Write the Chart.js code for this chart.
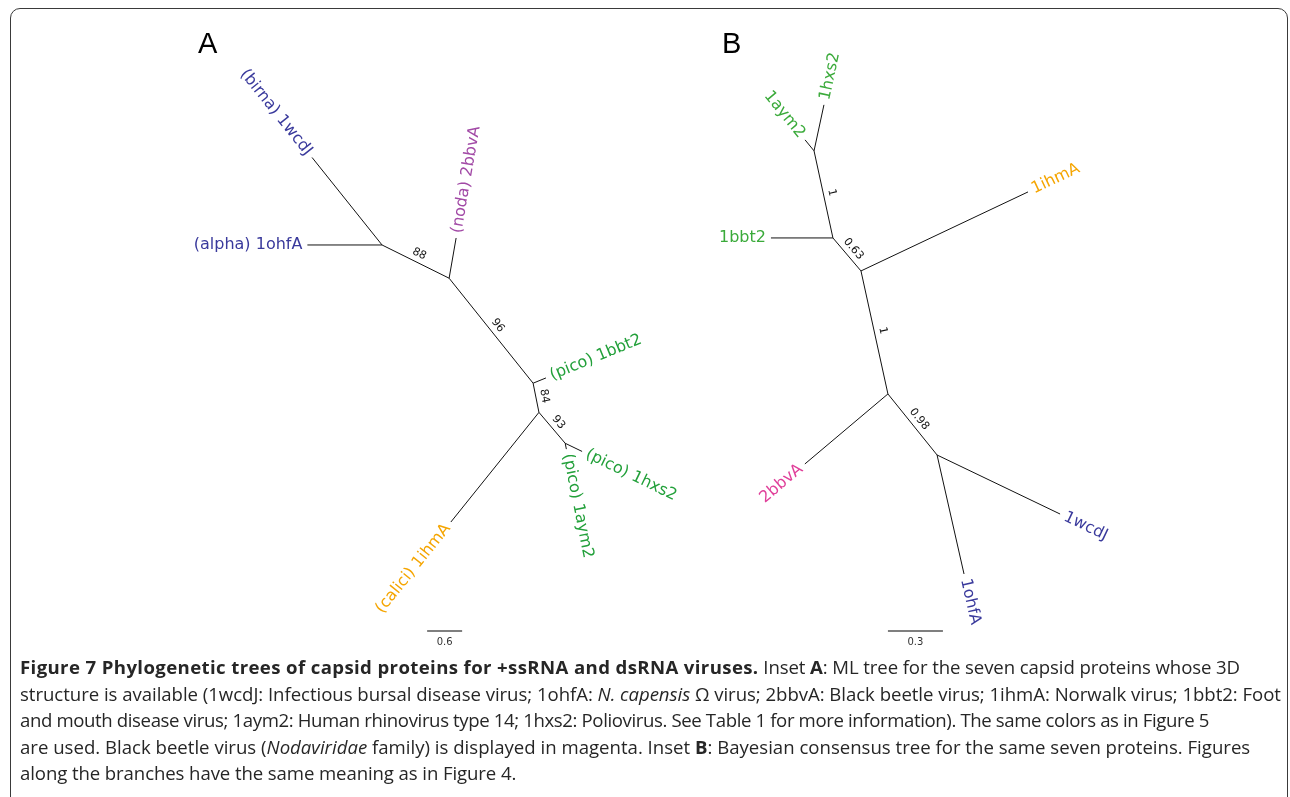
<!DOCTYPE html>
<html>
<head>
<meta charset="utf-8">
<script src="https://cdn.jsdelivr.net/npm/chart.js@4.4.1/dist/chart.umd.min.js"></script>
<style>
  body { margin: 0; background: #fff; width: 1290px; height: 797px; overflow: hidden; position: relative; }
  .marco { position: absolute; left: 10px; top: 8px; width: 1276px; height: 805px; border: 1.5px solid #3a3a3a; border-radius: 10px; }
  .lienzo { position: absolute; top: 0; height: 655px; }
  #pieFigura { position: absolute; left: 20px; top: 654px; font-family: "Open Sans", sans-serif; font-size: 18.6px; line-height: 26.6px; color: #262626; letter-spacing: -0.1px; white-space: nowrap; }
  #pieFigura b { font-weight: 700; }
  #pieFigura b.titulo { letter-spacing: 0.38px; }
</style>
</head>
<body>
<div class="marco"></div>
<div class="lienzo" style="left:0;width:760px"><canvas id="arbolA"></canvas></div>
<div class="lienzo" style="left:645px;width:645px"><canvas id="arbolB"></canvas></div>
<div id="pieFigura">
<b class="titulo">Figure 7 Phylogenetic trees of capsid proteins for +ssRNA and dsRNA viruses.</b> Inset <b>A</b>: ML tree for the seven capsid proteins whose 3D<br>
<span style="letter-spacing:-0.04px">structure is available (1wcdJ: Infectious bursal disease virus; 1ohfA: <i>N. capensis</i> Ω virus; 2bbvA: Black beetle virus; 1ihmA: Norwalk virus; 1bbt2: Foot</span><br>
<span style="letter-spacing:-0.38px">and mouth disease virus; 1aym2: Human rhinovirus type 14; 1hxs2: Poliovirus. See Table 1 for more information). The same colors as in Figure 5</span><br>
<span style="letter-spacing:0px">are used. Black beetle virus (<i>Nodaviridae</i> family) is displayed in magenta. Inset <b>B</b>: Bayesian consensus tree for the same seven proteins. Figures</span><br>
along the branches have the same meaning as in Figure 4.
</div>
<script>
// Arbol A (ML) - coordenadas de nodos en unidades de sustitucion
const nodosA   = ["n1", "n2", "n3", "n4", "n5", "1wcdJ", "1ohfA", "2bbvA", "1bbt2", "1hxs2", "1aym2", "1ihmA"];
const xA       = [-1.15, 0, 1.44, 1.54, 1.99, -2.35, -2.43, 0.12, 1.66, 2.28, 2.01, 0.03];
const yA       = [0.57, 0, -1.80, -2.30, -2.83, 2.07, 0.57, 0.69, -1.71, -2.97, -2.93, -4.18];
const ramasA   = [["n2","n1"], ["n1","1wcdJ"], ["n1","1ohfA"], ["n2","2bbvA"], ["n2","n3"], ["n3","1bbt2"], ["n3","n4"], ["n4","n5"], ["n5","1hxs2"], ["n5","1aym2"], ["n4","1ihmA"]];
const soporteA = [["n1","n2","88"], ["n2","n3","96"], ["n3","n4","84"], ["n4","n5","93"]];
const hojasA   = ["(birna) 1wcdJ", "(alpha) 1ohfA", "(noda) 2bbvA", "(pico) 1bbt2", "(pico) 1hxs2", "(pico) 1aym2", "(calici) 1ihmA"];
const escalaA  = 0.6;

// Arbol B (bayesiano)
const nodosB   = ["b1", "b2", "b3", "b4", "b5", "1hxs2", "1aym2", "1bbt2", "1ihmA", "2bbvA", "1wcdJ", "1ohfA"];
const xB       = [-0.256, -0.153, 0, 0.147, 0.415, -0.202, -0.305, -0.491, 0.911, -0.306, 1.086, 0.562];
const yB       = [0.655, 0.180, 0, -0.671, -1.004, 0.906, 0.715, 0.180, 0.431, -1.053, -1.326, -1.653];
const ramasB   = [["b1","1hxs2"], ["b1","1aym2"], ["b2","b1"], ["b2","1bbt2"], ["b3","b2"], ["b3","1ihmA"], ["b3","b4"], ["b4","2bbvA"], ["b4","b5"], ["b5","1wcdJ"], ["b5","1ohfA"]];
const soporteB = [["b1","b2","1"], ["b2","b3","0.63"], ["b3","b4","1"], ["b4","b5","0.98"]];
const hojasB   = ["1hxs2", "1aym2", "1bbt2", "1ihmA", "2bbvA", "1wcdJ", "1ohfA"];
const escalaB  = 0.3;

const colores = {
  A: { "1wcdJ": "#3a3a9c", "1ohfA": "#3a3a9c", "2bbvA": "#a24aa6", "1bbt2": "#22a03a", "1hxs2": "#22a03a", "1aym2": "#22a03a", "1ihmA": "#f5a500" },
  B: { "1wcdJ": "#3a3a9c", "1ohfA": "#3a3a9c", "2bbvA": "#e0409a", "1bbt2": "#3aaa3a", "1hxs2": "#3aaa3a", "1aym2": "#3aaa3a", "1ihmA": "#f5a500" }
};

function crearArbol(idCanvas, letra, nodos, xs, ys, ramas, soporte, hojas, escala, barra, rango, col) {
  const pos = {};
  nodos.forEach((n, i) => pos[n] = { x: xs[i], y: ys[i] });

  let datasets = ramas.map(r => ({
    data: [pos[r[0]], pos[r[1]]],
    showLine: true,
    borderColor: "#111",
    borderWidth: 1,
    pointRadius: 0
  }));
  // barra de escala
  datasets.push({
    data: [{ x: barra.x, y: barra.y }, { x: barra.x + escala, y: barra.y }],
    showLine: true,
    borderColor: "#555",
    borderWidth: 1.5,
    pointRadius: 0
  });

  const etiquetas = {
    id: "etiquetas",
    afterDatasetsDraw(chart) {
      const ctx = chart.ctx;
      const sx = chart.scales.x, sy = chart.scales.y;
      const px = p => ({ x: sx.getPixelForValue(p.x), y: sy.getPixelForValue(p.y) });
      ctx.save();
      // letra del panel
      ctx.fillStyle = "#000";
      ctx.font = "29px 'Liberation Sans', Arial";
      ctx.textBaseline = "alphabetic";
      ctx.textAlign = "left";
      ctx.fillText(letra, letra === "A" ? 198 : 77, 53);

      // nombres de las hojas
      ctx.font = "16px 'DejaVu Sans'";
      ctx.textBaseline = "middle";
      ramas.forEach(r => {
        const idx = hojas.findIndex(h => h.endsWith(r[1]));
        if (idx < 0) return;
        const a = px(pos[r[0]]), b = px(pos[r[1]]);
        let ang = Math.atan2(b.y - a.y, b.x - a.x);
        const izq = Math.abs(ang) > Math.PI / 2;
        ctx.save();
        ctx.translate(b.x, b.y);
        ctx.fillStyle = col[r[1]];
        if (izq) {
          ctx.rotate(ang + Math.PI);
          ctx.textAlign = "right";
          ctx.fillText(hojas[idx], -5, 0);
        } else {
          ctx.rotate(ang);
          ctx.textAlign = "left";
          ctx.fillText(hojas[idx], 5, 0);
        }
        ctx.restore();
      });

      // valores de soporte
      ctx.font = "11px 'DejaVu Sans'";
      ctx.fillStyle = "#111";
      ctx.textAlign = "center";
      ctx.textBaseline = "bottom";
      soporte.forEach(s => {
        const a = px(pos[s[0]]), b = px(pos[s[1]]);
        const ang = Math.atan2(b.y - a.y, b.x - a.x);
        ctx.save();
        ctx.translate((a.x + b.x) / 2, (a.y + b.y) / 2);
        ctx.rotate(ang);
        ctx.fillText(s[2], 0, -3);
        ctx.restore();
      });

      // texto de la barra de escala
      const p0 = px({ x: barra.x + escala / 2, y: barra.y });
      ctx.font = "10px 'DejaVu Sans'";
      ctx.fillStyle = "#333";
      ctx.textBaseline = "top";
      ctx.fillText(String(escala), p0.x, p0.y + 6);
      ctx.restore();
    }
  };

  return new Chart(document.getElementById(idCanvas), {
    type: "scatter",
    data: { datasets: datasets },
    options: {
      responsive: true,
      maintainAspectRatio: false,
      animation: false,
      layout: { padding: 0 },
      plugins: { legend: { display: false }, tooltip: { enabled: false } },
      scales: {
        x: { display: false, min: rango[0], max: rango[1] },
        y: { display: false, min: rango[2], max: rango[3] }
      }
    },
    plugins: [etiquetas]
  });
}

// el lienzo A es mas ancho (760px) para que quepan las etiquetas
crearArbol("arbolA", "A", nodosA, xA, yA, ramasA, soporteA, hojasA, escalaA,
  { x: -0.377, y: -6.05 }, [-7.70, 5.33, -6.46, 4.77], colores.A);
crearArbol("arbolB", "B", nodosB, xB, yB, ramasB, soporteB, hojasB, escalaB,
  { x: 0.147, y: -1.964 }, [-1.178, 2.340, -2.095, 1.478], colores.B);
</script>
</body>
</html>
